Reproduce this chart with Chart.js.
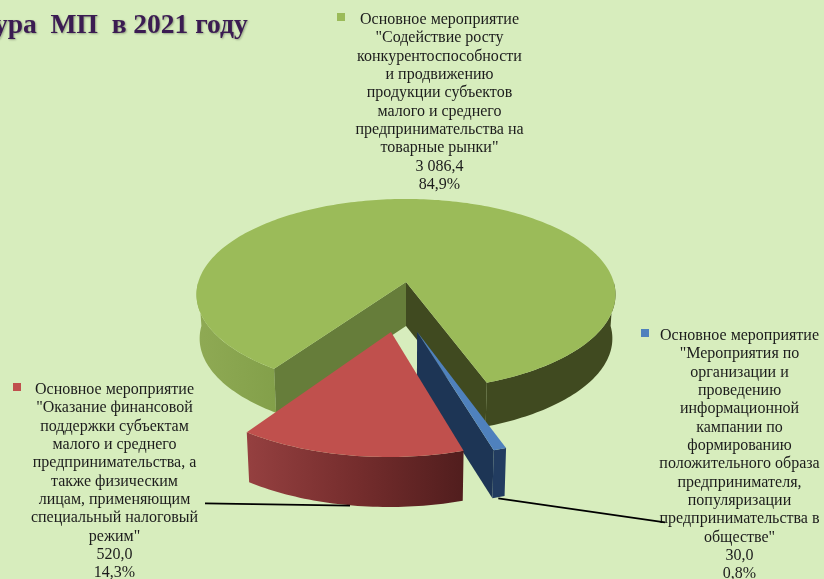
<!DOCTYPE html>
<html>
<head>
<meta charset="utf-8">
<script src="https://cdn.jsdelivr.net/npm/chart.js@4/dist/chart.umd.min.js"></script>
<style>
  html, body { margin: 0; padding: 0; background: #D7EDBD; overflow: hidden; }
  canvas { display: block; }
</style>
</head>
<body>
<canvas id="myChart" width="824" height="579"></canvas>
<script>
// order is the order of the slices going clockwise
const categories = ['Содействие', 'Мероприятия', 'Оказание']
const values = [3086.4, 30.0, 520.0]
const valueLabels = ['3 086,4', '30,0', '520,0']
const percentLabels = ['84,9%', '0,8%', '14,3%']
const colors = ['#9BBB59', '#4F81BD', '#C0504D']
const captions = [
  ['Основное мероприятие', '"Содействие росту', 'конкурентоспособности', 'и продвижению', 'продукции субъектов', 'малого и среднего', 'предпринимательства на', 'товарные рынки"'],
  ['Основное мероприятие', '"Мероприятия по', 'организации и', 'проведению', 'информационной', 'кампании по', 'формированию', 'положительного образа', 'предпринимателя,', 'популяризации', 'предпринимательства в', 'обществе"'],
  ['Основное мероприятие', '"Оказание финансовой', 'поддержки субъектам', 'малого и среднего', 'предпринимательства, а', 'также физическим', 'лицам, применяющим', 'специальный налоговый', 'режим"']
]
const title = 'ура  МП  в 2021 году'

// perspective of the pie plane, u to the right and v to the viewer
const apexX = 406, apexY = 282, scaleX = 207.7, scaleY = 93.9, persp = 0.131
const shift = [[0, 0], [0.05, 0.495], [-0.0675, 0.498]]
const depth = [44, 48, 50]

function proj(u, v, h) {
  const w = 1 - persp * v
  let x = scaleX * u / w
  if (h) x = x * 0.985
  return [apexX + x, apexY + scaleY * v / w + (h || 0)]
}

function arcPoints(a0, a1, s, h) {
  const pts = []
  const n = Math.max(2, Math.ceil(Math.abs(a1 - a0) / 0.02))
  for (let i = 0; i <= n; i++) {
    const a = a0 + (a1 - a0) * i / n
    pts.push(proj(s[0] + Math.cos(a), s[1] + Math.sin(a), h))
  }
  return pts
}

function fillPoly(ctx, pts, fill) {
  ctx.beginPath()
  pts.forEach((p, i) => i ? ctx.lineTo(p[0], p[1]) : ctx.moveTo(p[0], p[1]))
  ctx.closePath()
  ctx.fillStyle = fill
  ctx.fill()
}

function outerWall(ctx, a0, a1, s, h, fill) {
  fillPoly(ctx, arcPoints(a0, a1, s, 0).concat(arcPoints(a1, a0, s, h)), fill)
}

function cutWall(ctx, a, s, h, fill) {
  fillPoly(ctx, [
    proj(s[0], s[1], 0),
    proj(s[0] + Math.cos(a), s[1] + Math.sin(a), 0),
    proj(s[0] + Math.cos(a), s[1] + Math.sin(a), h),
    proj(s[0], s[1], h)
  ], fill)
}

function topFace(ctx, a0, a1, s, fill) {
  fillPoly(ctx, [proj(s[0], s[1], 0)].concat(arcPoints(a0, a1, s, 0)), fill)
}

function hGrad(ctx, x0, x1, stops) {
  const g = ctx.createLinearGradient(x0, 0, x1, 0)
  stops.forEach((c, i) => g.addColorStop(i / (stops.length - 1), c))
  return g
}

function drawBlock(ctx, lines, cx, y) {
  lines.forEach((t, i) => ctx.fillText(t, cx, y + i * 18.32))
}

// angles come from the arc elements of the pie, only the projection is ours
const pie3d = {
  id: 'pie3d',
  beforeDatasetsDraw(chart) {
    const ctx = chart.ctx
    const arcs = chart.getDatasetMeta(0).data
    const green = arcs[0], blue = arcs[1], red = arcs[2]

    ctx.save()
    // green: walls first, the top covers what is behind it
    outerWall(ctx, green.startAngle, Math.PI, shift[0], depth[0], hGrad(ctx, 196, 275, ['#8FAA54', '#83A04A']))
    outerWall(ctx, Math.PI * 2, green.endAngle, shift[0], depth[0], '#404A20')
    cutWall(ctx, green.startAngle, shift[0], depth[0], '#667D3A')
    cutWall(ctx, green.endAngle, shift[0], depth[0], '#404A20')
    topFace(ctx, green.startAngle, green.endAngle, shift[0], colors[0])

    // blue
    cutWall(ctx, blue.endAngle, shift[1], depth[1], '#1D3555')
    outerWall(ctx, blue.startAngle, blue.endAngle, shift[1], depth[1], '#223C60')
    topFace(ctx, blue.startAngle, blue.endAngle, shift[1], colors[1])

    // red
    outerWall(ctx, red.startAngle, red.endAngle, shift[2], depth[2], hGrad(ctx, 247, 466, ['#954040', '#752D2D', '#501D1D']))
    topFace(ctx, red.startAngle, red.endAngle, shift[2], colors[2])
    ctx.restore()
    return false
  },
  afterDraw(chart) {
    const ctx = chart.ctx
    ctx.save()

    ctx.font = 'bold 27.5px "Liberation Serif"'
    ctx.textAlign = 'left'
    ctx.fillStyle = '#3B1C52'
    ctx.shadowColor = 'rgba(0,0,0,0.3)'
    ctx.shadowBlur = 2
    ctx.shadowOffsetX = 1
    ctx.shadowOffsetY = 1
    ctx.fillText(title, -6, 33)
    ctx.shadowColor = 'transparent'

    ctx.font = '16px "Liberation Serif"'
    ctx.textAlign = 'center'
    ctx.fillStyle = '#1C1C1C'
    drawBlock(ctx, captions[0].concat(valueLabels[0], percentLabels[0]), 439.5, 24)
    drawBlock(ctx, captions[1].concat(valueLabels[1], percentLabels[1]), 739.5, 340)
    drawBlock(ctx, captions[2].concat(valueLabels[2], percentLabels[2]), 114.5, 394)

    // legend keys
    ctx.fillStyle = colors[0]; ctx.fillRect(337, 13, 8, 8)
    ctx.fillStyle = colors[1]; ctx.fillRect(641, 329, 8, 8)
    ctx.fillStyle = colors[2]; ctx.fillRect(13, 383, 8, 8)

    // leader lines
    ctx.strokeStyle = '#000'
    ctx.lineWidth = 1.8
    ctx.beginPath()
    ctx.moveTo(205, 503.3); ctx.lineTo(350, 505.7)
    ctx.moveTo(498.3, 498.3); ctx.lineTo(665, 522.3)
    ctx.stroke()
    ctx.restore()
  }
}

new Chart(document.getElementById('myChart').getContext('2d'), {
  type: 'pie',
  data: {
    labels: categories,
    datasets: [{ data: values, backgroundColor: colors, borderWidth: 0 }]
  },
  options: {
    responsive: false,
    animation: false,
    rotation: 214.5,
    plugins: { legend: { display: false }, tooltip: { enabled: false } }
  },
  plugins: [pie3d]
})
</script>
</body>
</html>
